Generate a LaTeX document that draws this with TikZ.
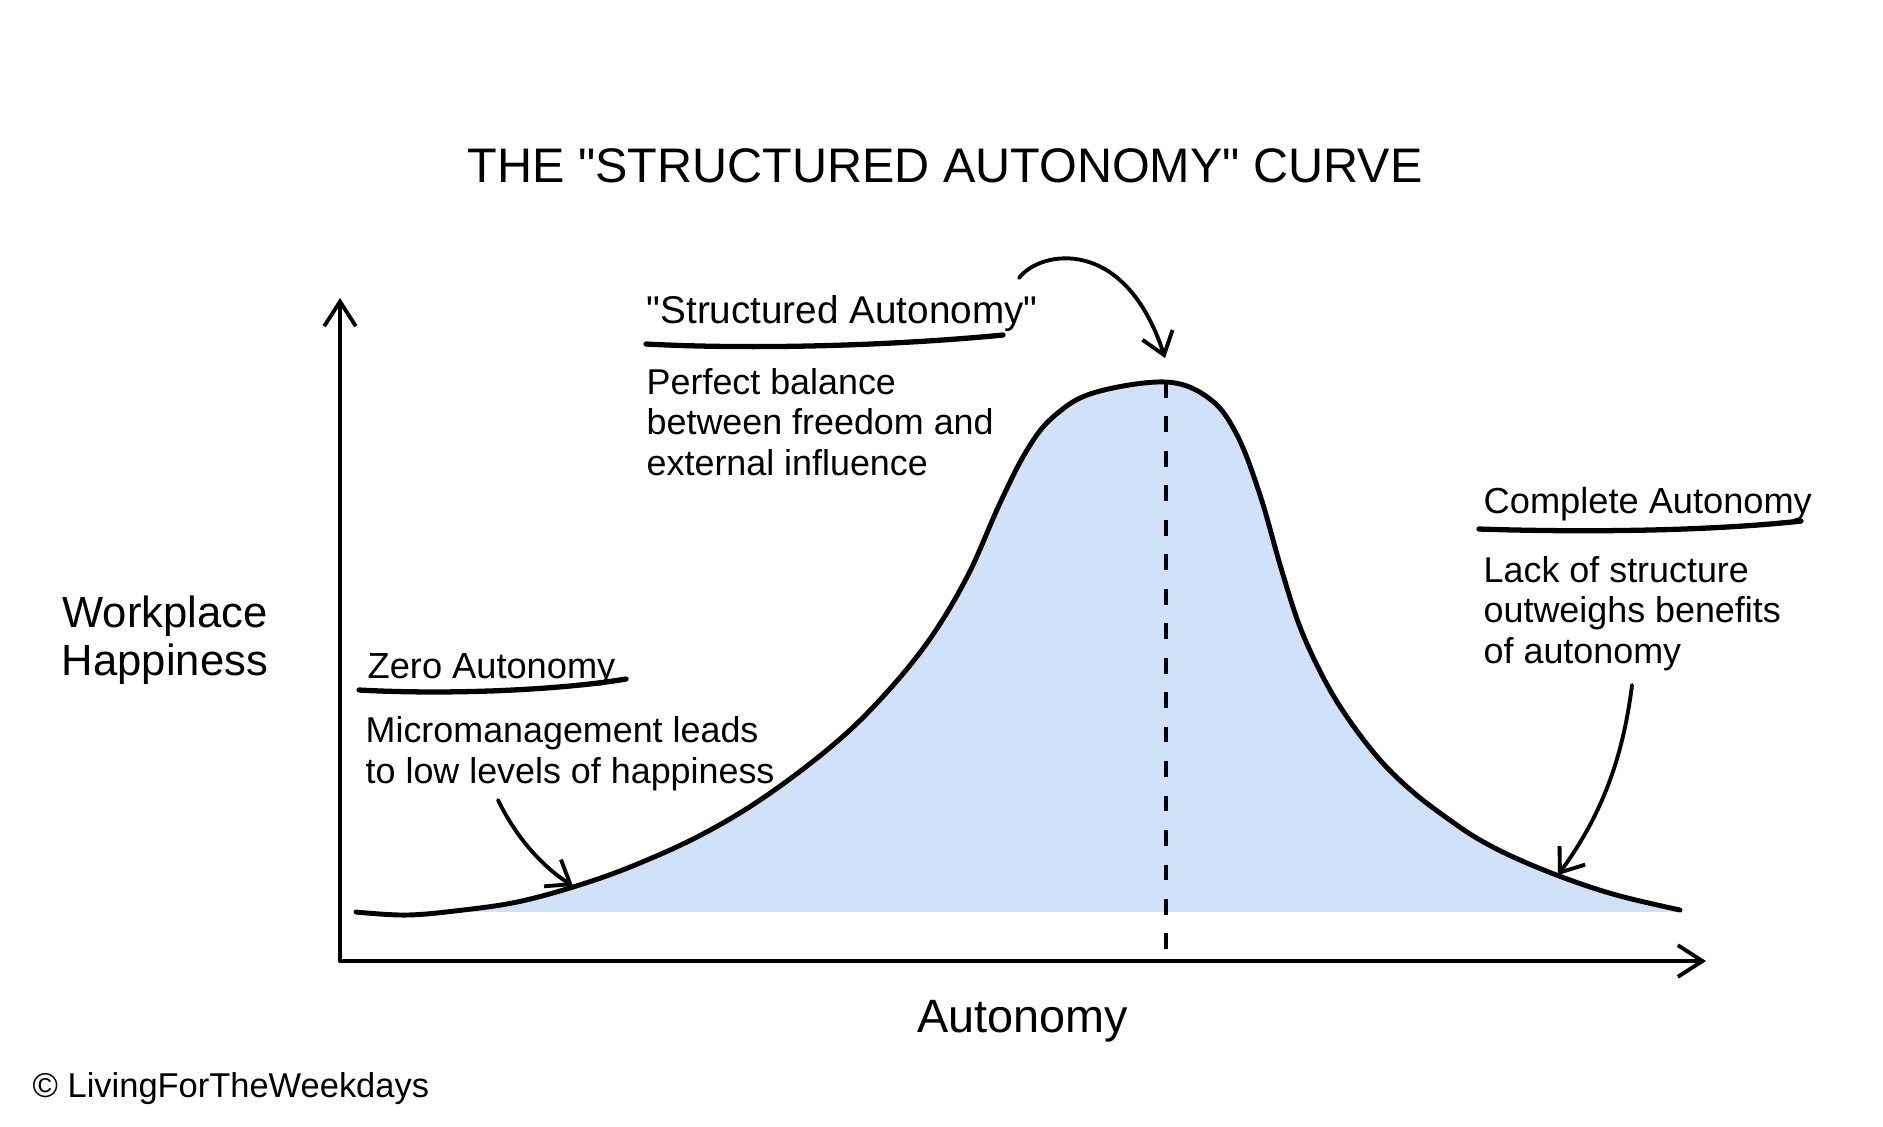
\documentclass[tikz,border=0pt]{standalone}
\usepackage{fontspec}
\setmainfont{Liberation Sans}
\newfontfamily\plainfont{Liberation Sans}
\usepackage{tikz}
\usetikzlibrary{arrows.meta}
\definecolor{bellblue}{RGB}{208,225,250}
\tikzset{
	axisline/.style={line width=1.1pt, line join=round, {Straight Barb[length=7pt,width=9pt]}-{Straight Barb[length=7pt,width=9pt]}},
	bellline/.style={line width=1.4pt, line cap=round},
	pointer/.style={line width=1.1pt, line cap=round, -{Straight Barb[length=6pt,width=9pt]}},
	headrule/.style={line width=1.5pt, line cap=round},
	heading/.style={inner sep=0pt, anchor=base west, font=\fontsize{10.3}{12}\selectfont},
	note/.style={inner sep=0pt, anchor=base west, align=left, font=\fontsize{10.2}{11.4}\selectfont}
}
\def\quo{{\plainfont"}}
\def\bellcurve{plot[smooth,tension=0.6] coordinates {(356,912) (407,915) (463,910) (517,902) (573,887) (630,867) (697,837) (760,800) (827,750) (877,703) (927,643) (967,577) (1000,503) (1027,450) (1053,417) (1093,393) (1166,382) (1210,399) (1237,435) (1260,495) (1281,568) (1300,627) (1323,677) (1347,717) (1380,760) (1413,792) (1447,818) (1480,840) (1520,860) (1570,880) (1620,896) (1680,910)}}

\begin{document}
\begin{tikzpicture}[x=0.01cm, y=-0.01cm]
			%%%%% START %%%%%
			\useasboundingbox (0,0) rectangle (1883,1126);
			
			\node[font=\fontsize{13.8}{16}\selectfont, anchor=base, inner sep=0pt] (title) at (945,182) {THE \quo STRUCTURED AUTONOMY\quo\ CURVE};
			
			% area under the curve
			\begin{scope}
				\clip (0,0) rectangle (1883,911);
				\fill[bellblue] \bellcurve -- (1680,940) -- (356,940) -- cycle;
			\end{scope}
			\draw[bellline] \bellcurve;
			
			\coordinate (ytop) at (340,298);
			\coordinate (origin) at (340,961);
			\coordinate (xend) at (1706,961);
			\draw[axisline] (ytop) -- (origin) -- (xend);
			
			\coordinate (peak) at (1166,382);
			\coordinate (peakfoot) at (1166,961);
			\draw[line width=1.2pt, dash pattern=on 4.5pt off 5.3pt] (peak) -- (peakfoot);
			
			\node[font=\fontsize{12.4}{13.4}\selectfont, align=center, anchor=base, inner sep=0pt] (ylabel) at (165,675) {Workplace\\Happiness};
			\node[font=\fontsize{13.3}{16}\selectfont, anchor=base, inner sep=0pt] (xlabel) at (1023,1032) {Autonomy};
			
			% left note
			\node[heading] (zerohead) at (367,678) {Zero Autonomy};
			\draw[headrule] (359,690) .. controls (450,695) and (560,690) .. (626,679);
			\node[note] (zeronote) at (365,783) {Micromanagement leads\\to low levels of happiness};
			\coordinate (zerofrom) at (498,800);
			\coordinate (zeroto) at (573,886);
			\draw[pointer] (zerofrom) .. controls (515,835) and (540,865) .. (zeroto);
			
			% top note
			\node[heading, font=\fontsize{11}{13}\selectfont] (balancehead) at (646,323) {\quo Structured Autonomy\quo};
			\draw[headrule] (646,344) .. controls (760,350) and (900,345) .. (1003,335);
			\node[note] (balancenote) at (646,475) {Perfect balance\\between freedom and\\external influence};
			\coordinate (balancefrom) at (1019,278);
			\coordinate (balanceto) at (1165,358);
			\draw[pointer] (balancefrom) .. controls (1040,250) and (1125,235) .. (balanceto);
			
			% right note
			\node[heading] (fullhead) at (1483,513) {Complete Autonomy};
			\draw[headrule] (1479,529) .. controls (1600,533) and (1720,530) .. (1801,521);
			\node[note] (fullnote) at (1483,663) {Lack of structure\\outweighs benefits\\of autonomy};
			\coordinate (fullfrom) at (1632,685);
			\coordinate (fullto) at (1558,875);
			\draw[pointer] (fullfrom) .. controls (1622,765) and (1598,820) .. (fullto);
			
			\node[font=\fontsize{9.8}{12}\selectfont, anchor=base west, inner sep=0pt] (credit) at (32,1097) {© LivingForTheWeekdays};
			
			%%%%% END %%%%%
\end{tikzpicture}
\end{document}
